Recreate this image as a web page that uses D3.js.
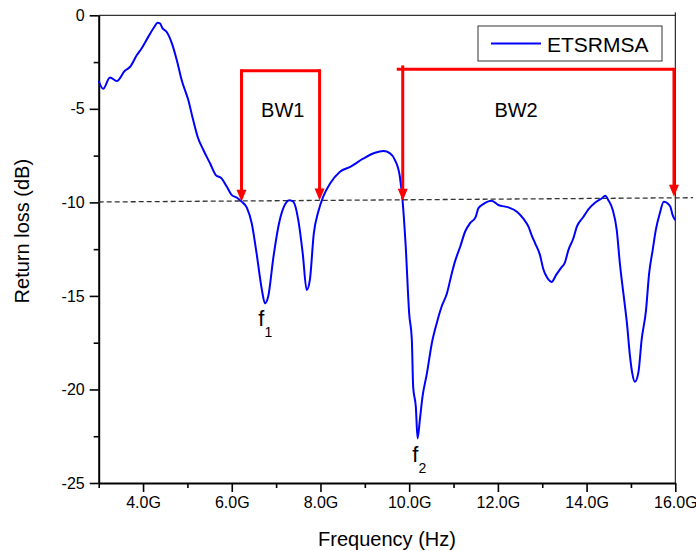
<!DOCTYPE html>
<html>
<head>
<meta charset="utf-8">
<script src="https://cdn.jsdelivr.net/npm/d3@7"></script>
<style>
  body { margin: 0; background: #fff; }
  text { font-family: "Liberation Sans", Arial, sans-serif; fill: #000; }
</style>
</head>
<body>
<svg></svg>
<script>
const size = {w: 696, h: 551};
const plot = {l: 98.7, r: 675.3, t: 15.3, b: 483};

// measured curve: frequency (GHz) and return loss (dB)
const freq = [3.00, 3.10, 3.255, 3.41, 3.59, 3.71, 3.86, 3.97, 4.12, 4.25, 4.33, 4.38, 4.44, 4.53, 4.65, 4.76, 4.87, 5.02, 5.13, 5.23,
  5.36, 5.51, 5.64, 5.77, 5.89, 6.00, 6.11, 6.22, 6.34, 6.45, 6.56, 6.68, 6.75, 6.82, 6.94, 7.05, 7.16, 7.30, 7.39, 7.50,
  7.60, 7.69, 7.76, 7.85, 7.95, 8.06, 8.22, 8.44, 8.67, 8.97, 9.23, 9.42, 9.57, 9.68, 9.79, 9.85, 9.92, 10.00, 10.06, 10.09,
  10.15, 10.19, 10.24, 10.30, 10.40, 10.51, 10.62, 10.73, 10.85, 10.96, 11.03, 11.15, 11.26, 11.37, 11.50, 11.56, 11.67, 11.86, 12.01, 12.24,
  12.43, 12.57, 12.69, 12.76, 12.84, 12.95, 13.02, 13.11, 13.21, 13.31, 13.42, 13.51, 13.59, 13.70, 13.78, 13.93, 14.04, 14.19, 14.34, 14.42,
  14.49, 14.59, 14.68, 14.75, 14.83, 14.91, 14.98, 15.03, 15.09, 15.17, 15.24, 15.34, 15.41, 15.49, 15.56, 15.65, 15.74, 15.81, 15.89, 15.94, 16.00];
const loss = [-3.50, -3.93, -3.32, -3.51, -2.96, -2.75, -2.12, -1.76, -1.14, -0.64, -0.40, -0.43, -0.70, -0.88, -1.50, -2.39, -3.46, -4.53, -5.60, -6.49,
  -7.20, -7.91, -8.54, -8.72, -9.17, -9.61, -9.74, -9.96, -10.28, -11.12, -12.73, -14.69, -15.40, -15.05, -12.91, -11.30, -10.32, -9.88, -9.97, -10.95,
  -12.73, -14.69, -14.16, -11.66, -10.50, -9.70, -8.98, -8.36, -8.10, -7.65, -7.35, -7.26, -7.38, -7.74, -8.63, -9.88, -12.28, -15.94, -17.36, -19.86,
  -20.93, -22.62, -21.64, -20.40, -19.14, -17.54, -16.47, -15.58, -14.87, -13.80, -13.18, -12.37, -11.57, -11.12, -10.77, -10.32, -10.09, -9.91, -10.14, -10.27,
  -10.50, -10.86, -11.30, -11.75, -12.19, -12.82, -13.53, -14.02, -14.25, -13.89, -13.51, -13.22, -12.55, -11.93, -11.30, -10.77, -10.37, -10.02, -9.79, -9.65,
  -9.88, -10.41, -11.48, -13.26, -14.87, -16.47, -18.26, -19.14, -19.59, -19.06, -17.36, -15.76, -13.80, -12.55, -11.48, -10.59, -9.97, -10.02, -10.24, -10.68, -10.95];

const xTicks = [4, 6, 8, 10, 12, 14, 16];
const xMinor = [3, 5, 7, 9, 11, 13, 15];
const yTicks = [0, -5, -10, -15, -20, -25];
const yMinor = [-2.5, -7.5, -12.5, -17.5, -22.5];

// -10 dB reference line (slightly tilted in the original)
const refLine = [[3, -9.98], [16.4, -9.75]];

// bandwidth brackets
const bandNames = ['BW1', 'BW2'];
const bandEdges = [[6.22, 7.98], [9.855, 15.97]];
const bandTop = [-2.96, -2.89];
const bandTips = [[-9.96, -9.90], [-9.91, -9.70]];
const bandLabelPos = [[7.15, -5.43], [12.41, -5.43]];

// resonance labels
const resNames = ['1', '2'];
const resPos = [[6.60, -16.6], [10.07, -23.9]];

const seriesName = 'ETSRMSA';

const svg = d3.select('svg').attr('width', size.w).attr('height', size.h);

const x = d3.scaleLinear().domain([3, 16]).range([plot.l, plot.r]);
const y = d3.scaleLinear().domain([-25, 0]).range([plot.b, plot.t]);

// frame (top and right)
svg.append('line').attr('x1', plot.l).attr('x2', plot.r).attr('y1', plot.t).attr('y2', plot.t)
  .attr('stroke', '#000').attr('stroke-width', 1);
svg.append('line').attr('x1', plot.r).attr('x2', plot.r).attr('y1', plot.t - 3).attr('y2', plot.b)
  .attr('stroke', '#000').attr('stroke-width', 1);

// axes
const fmtX = d => d.toFixed(1) + 'G';
const xAxis = svg.append('g').attr('transform', `translate(0,${plot.b})`)
  .call(d3.axisBottom(x).tickValues(xTicks).tickFormat(fmtX).tickSize(9).tickSizeOuter(0).tickPadding(5));
svg.append('g').attr('transform', `translate(0,${plot.b})`)
  .call(d3.axisBottom(x).tickValues(xMinor).tickFormat('').tickSize(5).tickSizeOuter(0))
  .select('.domain').remove();
const yAxis = svg.append('g').attr('transform', `translate(${plot.l},0)`)
  .call(d3.axisLeft(y).tickValues(yTicks).tickFormat(d => String(d)).tickSize(9).tickSizeOuter(0).tickPadding(5));
svg.append('g').attr('transform', `translate(${plot.l},0)`)
  .call(d3.axisLeft(y).tickValues(yMinor).tickFormat('').tickSize(5).tickSizeOuter(0))
  .select('.domain').remove();

svg.selectAll('.domain').attr('stroke-width', 2);
svg.selectAll('.tick line').attr('stroke-width', 1.6);
svg.selectAll('.tick text').style('font-size', '16px').style('font-family', '"Liberation Sans", Arial, sans-serif');

// axis titles
svg.append('text').attr('x', (plot.l + plot.r) / 2).attr('y', 546).attr('text-anchor', 'middle')
  .style('font-size', '20px').text('Frequency (Hz)');
svg.append('text').attr('transform', `translate(29,${(plot.t + plot.b) / 2 - 18}) rotate(-90)`)
  .attr('text-anchor', 'middle').style('font-size', '20px').text('Return loss (dB)');

// reference line
svg.append('line')
  .attr('x1', x(refLine[0][0])).attr('y1', y(refLine[0][1]))
  .attr('x2', x(refLine[1][0])).attr('y2', y(refLine[1][1]))
  .attr('stroke', '#333').attr('stroke-width', 1.3).attr('stroke-dasharray', '5,3');

// curve
const data = freq.map((f, i) => ({f: f, v: loss[i]}));
const line = d3.line().x(d => x(d.f)).y(d => y(d.v)).curve(d3.curveMonotoneX);
svg.append('path').datum(data).attr('d', line)
  .attr('fill', 'none').attr('stroke', '#0000ff').attr('stroke-width', 2).attr('stroke-linejoin', 'round');

// bandwidth brackets with arrows
const red = '#ff0000';
const headL = 12, headW = 5;
const bandG = svg.append('g');
bandEdges.forEach((e, i) => {
  const yt = y(bandTop[i]);
  const xl = i === 1 ? x(e[0]) - 6 : x(e[0]);
  bandG.append('line').attr('x1', xl).attr('x2', x(e[1])).attr('y1', yt).attr('y2', yt)
    .attr('stroke', red).attr('stroke-width', 3);
  e.forEach((fx, j) => {
    const px = x(fx), tip = y(bandTips[i][j]);
    bandG.append('line').attr('x1', px).attr('x2', px).attr('y1', yt - (i === 1 && j === 0 ? 4 : 1.5)).attr('y2', tip - headL + 1)
      .attr('stroke', red).attr('stroke-width', 3);
    bandG.append('path')
      .attr('d', `M${px - headW},${tip - headL}L${px + headW},${tip - headL}L${px},${tip}Z`)
      .attr('fill', red);
  });
  svg.append('text').attr('x', x(bandLabelPos[i][0])).attr('y', y(bandLabelPos[i][1]))
    .attr('text-anchor', 'middle').style('font-size', '20px').text(bandNames[i]);
});

// resonance labels f1, f2
resPos.forEach((p, i) => {
  const t = svg.append('text').attr('x', x(p[0])).attr('y', y(p[1])).style('font-size', '22px');
  t.append('tspan').text('f');
  t.append('tspan').attr('dy', 11).style('font-size', '14px').text(resNames[i]);
});

// legend
const leg = svg.append('g').attr('transform', 'translate(478,26)');
leg.append('rect').attr('width', 184).attr('height', 35).attr('fill', '#fff').attr('stroke', '#333').attr('stroke-width', 1);
leg.append('line').attr('x1', 13).attr('x2', 63).attr('y1', 17.5).attr('y2', 17.5)
  .attr('stroke', '#0000ff').attr('stroke-width', 2);
leg.append('text').attr('x', 69).attr('y', 25.5).style('font-size', '21px').text(seriesName);
</script>
</body>
</html>
